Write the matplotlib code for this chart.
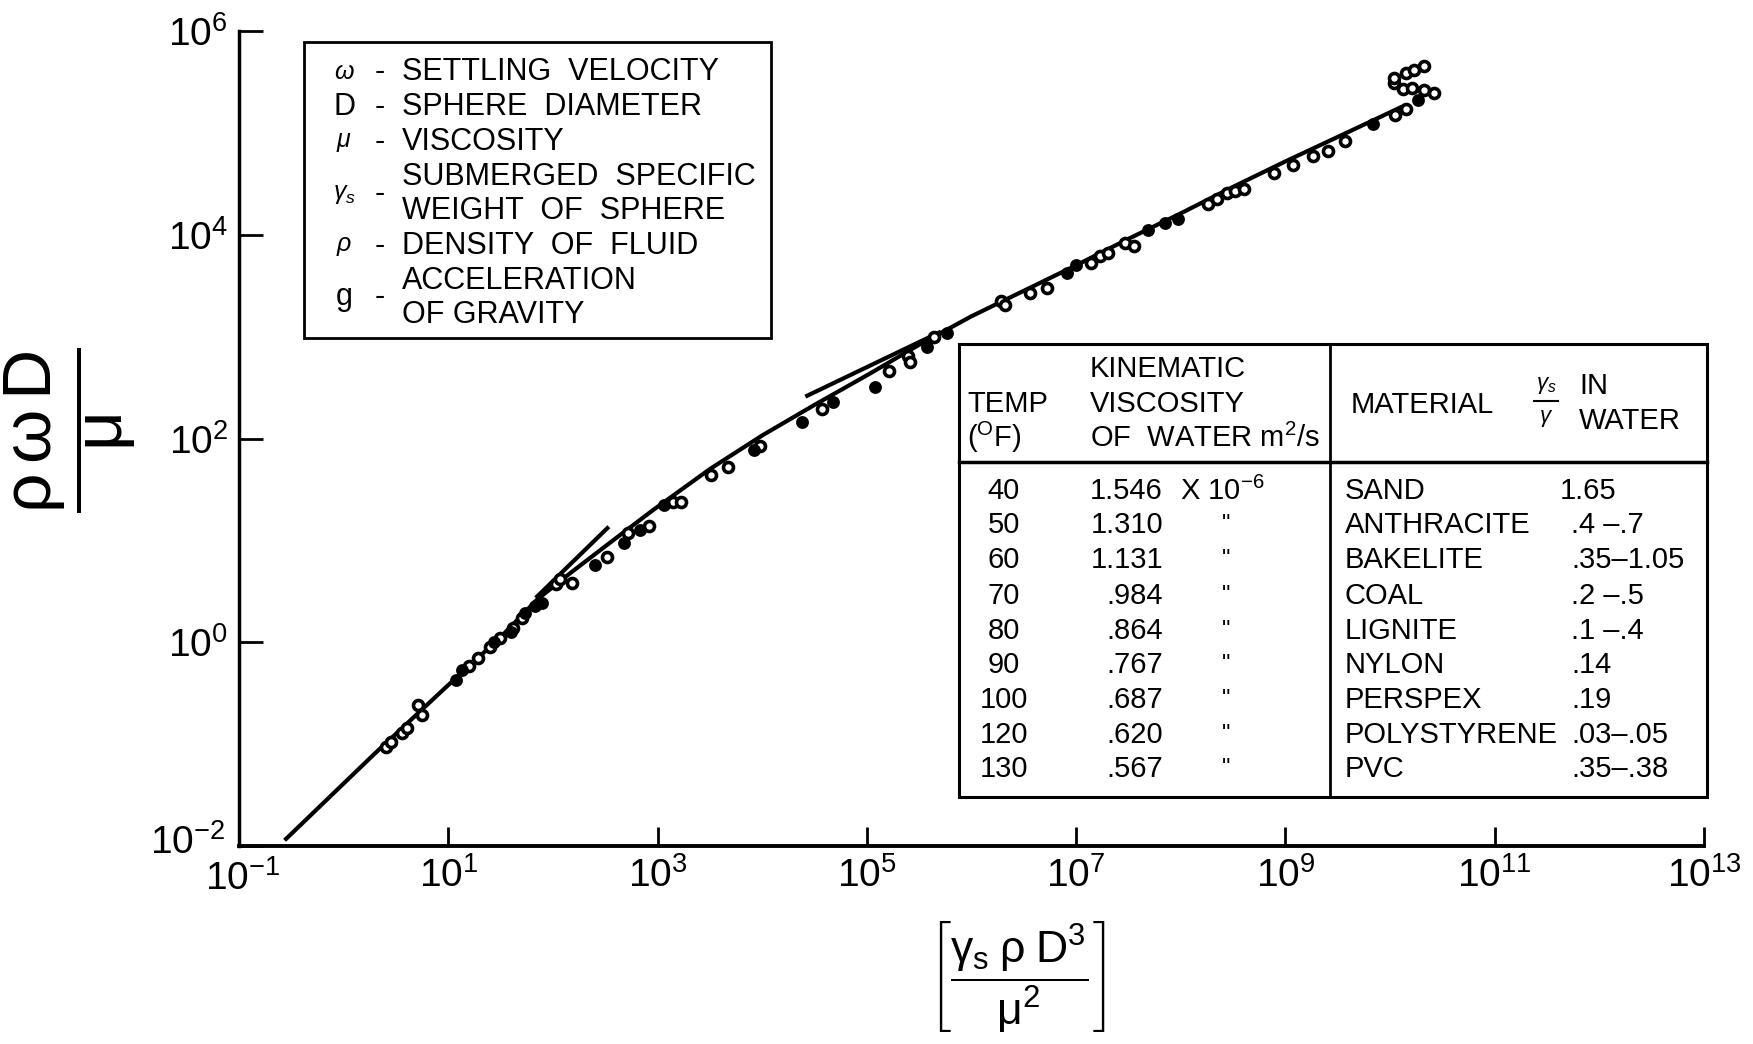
import numpy as np
import matplotlib
matplotlib.use('Agg')
import matplotlib.pyplot as plt
import matplotlib.transforms as mtransforms
from matplotlib.patches import Rectangle
from matplotlib.lines import Line2D

plt.rcParams['font.family'] = ['Liberation Sans', 'DejaVu Sans']
plt.rcParams['mathtext.fontset'] = 'custom'
plt.rcParams['mathtext.rm'] = 'Liberation Sans'
plt.rcParams['mathtext.it'] = 'Liberation Sans:italic'
plt.rcParams['mathtext.bf'] = 'Liberation Sans:bold'

W, H = 1753, 1044

# fitted curve, log10 values
curve_lx = [-0.55, 0.29, 1.0, 1.5, 1.85, 2.18, 2.6, 2.96, 3.5, 4.0, 4.5, 5.0,
            5.5, 6.0, 6.5, 7.0, 7.5, 8.0, 8.5, 9.0, 9.5, 10.1]
curve_ly = [-1.93, -1.10, -0.42, 0.05, 0.42, 0.69, 1.02, 1.30, 1.70, 2.03, 2.33, 2.62,
            2.92, 3.20, 3.45, 3.70, 3.96, 4.21, 4.47, 4.72, 4.96, 5.25]
# two short tangent segments
steep_lx = [1.85, 2.52]
steep_ly = [0.45, 1.12]
upper_lx = [4.43, 5.69]
upper_ly = [2.42, 3.04]

# measured points (log10), 1 = filled, 0 = open
pts_lx = [0.40, 0.45, 0.56, 0.61, 0.71, 0.75, 1.07, 1.13, 1.20, 1.28, 1.40, 1.44, 1.49,
          1.60, 1.62, 1.70, 1.73, 1.83, 1.90, 2.03, 2.07, 2.18,
          2.40, 2.52, 2.68, 2.72, 2.83, 2.92, 3.06, 3.15, 3.22, 3.51, 3.67, 3.92, 3.98,
          4.38, 4.57, 4.68,
          5.08, 5.21, 5.39, 5.41, 5.57, 5.64, 5.77, 6.28, 6.32, 6.56, 6.72, 6.91, 7.00,
          7.14, 7.23, 7.30, 7.47, 7.55, 7.69,
          7.85, 7.97, 8.26, 8.35, 8.44, 8.52, 8.60, 8.89, 9.07, 9.26, 9.41, 9.57, 9.84,
          10.05, 10.15, 10.27,
          10.04, 10.04, 10.15, 10.23, 10.32, 10.12, 10.21, 10.32, 10.42]
pts_ly = [-1.03, -0.98, -0.89, -0.84, -0.62, -0.71, -0.37, -0.27, -0.23, -0.15, -0.05, 0.00, 0.04,
          0.10, 0.14, 0.24, 0.29, 0.36, 0.39, 0.57, 0.62, 0.58,
          0.76, 0.84, 0.97, 1.07, 1.10, 1.14, 1.35, 1.38, 1.38, 1.64, 1.72, 1.89, 1.93,
          2.16, 2.29, 2.36,
          2.51, 2.66, 2.81, 2.75, 2.90, 3.00, 3.04, 3.35, 3.31, 3.43, 3.48, 3.62, 3.70,
          3.72, 3.79, 3.82, 3.92, 3.89, 4.05,
          4.12, 4.15, 4.30, 4.35, 4.41, 4.43, 4.45, 4.61, 4.68, 4.77, 4.82, 4.92, 5.09,
          5.18, 5.23, 5.32,
          5.49, 5.54, 5.59, 5.62, 5.66, 5.43, 5.44, 5.42, 5.39]
pts_filled = [0, 0, 0, 0, 0, 0, 1, 1, 0, 0, 0, 1, 0,
              1, 0, 0, 1, 1, 1, 0, 0, 0,
              1, 0, 1, 0, 1, 0, 1, 0, 0, 0, 0, 1, 0,
              1, 0, 1,
              1, 0, 0, 0, 1, 0, 1, 0, 0, 0, 0, 1, 1,
              0, 0, 0, 0, 0, 1,
              1, 1, 0, 0, 0, 0, 0, 0, 0, 0, 0, 0, 1,
              0, 0, 1,
              0, 0, 0, 0, 0, 0, 0, 0, 0]

# table contents
temps = ['40', '50', '60', '70', '80', '90', '100', '120', '130']
visc = ['1.546', '1.310', '1.131', '.984', '.864', '.767', '.687', '.620', '.567']
materials = ['SAND', 'ANTHRACITE', 'BAKELITE', 'COAL', 'LIGNITE', 'NYLON',
             'PERSPEX', 'POLYSTYRENE', 'PVC']
ratios = ['1.65', '.4 \u2013.7', '.35\u20131.05', '.2 \u2013.5', '.1 \u2013.4', '.14',
          '.19', '.03\u2013.05', '.35\u2013.38']

legend_syms = [r'$\omega$', 'D', r'$\mu$', r'$\gamma_s$', r'$\rho$', 'g']
legend_lines = ['SETTLING  VELOCITY', 'SPHERE  DIAMETER', 'VISCOSITY',
                'SUBMERGED  SPECIFIC', 'WEIGHT  OF  SPHERE', 'DENSITY  OF  FLUID',
                'ACCELERATION', 'OF GRAVITY']


def fx(x):
    return x / W


def fy(y):
    return 1 - y / H


fig = plt.figure(figsize=(W / 100, H / 100), dpi=100)
ax = fig.add_axes([fx(239), fy(846), fx(1704) - fx(239), fy(31) - fy(846)])

ax.plot(10 ** np.array(curve_lx), 10 ** np.array(curve_ly), color='k', lw=3, zorder=2)
ax.plot(10 ** np.array(steep_lx), 10 ** np.array(steep_ly), color='k', lw=3, zorder=2)
ax.plot(10 ** np.array(upper_lx), 10 ** np.array(upper_ly), color='k', lw=3, zorder=2)

px = 10 ** np.array(pts_lx)
py = 10 ** np.array(pts_ly)
filled = np.array(pts_filled) == 1
ax.scatter(px[~filled], py[~filled], s=52, facecolors='white', edgecolors='k', linewidths=2.6, zorder=3)
ax.scatter(px[filled], py[filled], s=60, facecolors='k', edgecolors='k', linewidths=1.5, zorder=3)

ax.set_xscale('log')
ax.set_yscale('log')
ax.set_xlim(1e-1, 1e13)
ax.set_ylim(1e-2, 1e6)
ax.set_xticks([10.0 ** k for k in range(-1, 14, 2)])
ax.set_yticks([10.0 ** k for k in range(-2, 7, 2)])
ax.minorticks_off()
ax.spines['top'].set_visible(False)
ax.spines['right'].set_visible(False)
ax.spines['left'].set_linewidth(2.5)
ax.spines['bottom'].set_linewidth(2.8)
ax.tick_params(axis='both', direction='in', width=2, labelsize=28)
ax.tick_params(axis='y', length=17, pad=8)
ax.tick_params(axis='x', length=14, pad=8)

# nudge the corner labels apart a little
fig.canvas.draw()
lab = ax.get_yticklabels()[0]
lab.set_transform(lab.get_transform() + mtransforms.ScaledTranslation(-2 / 72, 5 / 72, fig.dpi_scale_trans))
lab = ax.get_xticklabels()[0]
lab.set_transform(lab.get_transform() + mtransforms.ScaledTranslation(3 / 72, -2 / 72, fig.dpi_scale_trans))

# axis labels
fig.text(fx(70), fy(430), r'$\dfrac{\mathrm{\rho\,\omega\, D}}{\mathrm{\mu}}$', rotation=90,
         fontsize=50, ha='center', va='center')
fig.text(fx(1017), fy(976), r'$\left[\dfrac{\mathrm{\gamma_s\;\rho\;D^3}}{\mathrm{\mu^2}}\right]$',
         fontsize=32, ha='center', va='center')

# legend box
fig.add_artist(Rectangle((fx(304), fy(338)), fx(771) - fx(304), fy(42) - fy(338),
                         transform=fig.transFigure, fill=False, lw=2, color='k'))
sym_y = [72, 107, 142, 194, 246, 297]
for s, y in zip(legend_syms, sym_y):
    big = s in ('D', 'g')
    fig.text(fx(344), fy(y), s, fontsize=22 if big else 18, ha='center', va='center')
    fig.text(fx(380), fy(y), '-', fontsize=22, ha='center', va='center')
line_y = [72, 107, 142, 177, 211, 246, 281, 315]
for t, y in zip(legend_lines, line_y):
    fig.text(fx(402), fy(y), t, fontsize=22, ha='left', va='center')

# table
fig.add_artist(Rectangle((fx(959), fy(797)), fx(1707) - fx(959), fy(344) - fy(797),
                         transform=fig.transFigure, fill=False, lw=2.2, color='k'))
fig.add_artist(Line2D([fx(1330), fx(1330)], [fy(344), fy(797)], transform=fig.transFigure, lw=2, color='k'))
fig.add_artist(Line2D([fx(959), fx(1707)], [fy(462), fy(462)], transform=fig.transFigure, lw=2.5, color='k'))

fs = 21
fig.text(fx(967), fy(404), 'TEMP', fontsize=fs, va='center')
fig.text(fx(967), fy(437), r'($^{\mathrm{O}}$F)', fontsize=fs, va='center')
fig.text(fx(1090), fy(369), 'KINEMATIC', fontsize=fs, va='center')
fig.text(fx(1090), fy(404), 'VISCOSITY', fontsize=fs, va='center')
fig.text(fx(1090), fy(438), r'OF  WATER m$^2$/s', fontsize=fs, va='center')
fig.text(fx(1351), fy(405), 'MATERIAL', fontsize=fs, va='center')
fig.text(fx(1546), fy(386), r'$\gamma_s$', fontsize=16, ha='center', va='center')
fig.add_artist(Line2D([fx(1534), fx(1558)], [fy(401), fy(401)], transform=fig.transFigure, lw=1.5, color='k'))
fig.text(fx(1546), fy(419), r'$\gamma$', fontsize=16, ha='center', va='center')
fig.text(fx(1579), fy(386), 'IN', fontsize=fs, va='center')
fig.text(fx(1579), fy(421), 'WATER', fontsize=fs, va='center')

row_y = [491, 525, 560, 596, 631, 665, 700, 735, 769]
for i, y in enumerate(row_y):
    fig.text(fx(1004), fy(y), temps[i], fontsize=fs, ha='center', va='center')
    fig.text(fx(1163), fy(y), visc[i], fontsize=fs, ha='right', va='center')
    if i == 0:
        fig.text(fx(1180), fy(y), r'X 10$^{-6}$', fontsize=fs, ha='left', va='center')
    else:
        fig.text(fx(1226), fy(y), '"', fontsize=fs - 4, ha='center', va='center')
    fig.text(fx(1345), fy(y), materials[i], fontsize=fs, ha='left', va='center')
    fig.text(fx(1560 if i == 0 else 1571), fy(y), ratios[i], fontsize=fs, ha='left', va='center')

fig.savefig('out.png', dpi=100)
